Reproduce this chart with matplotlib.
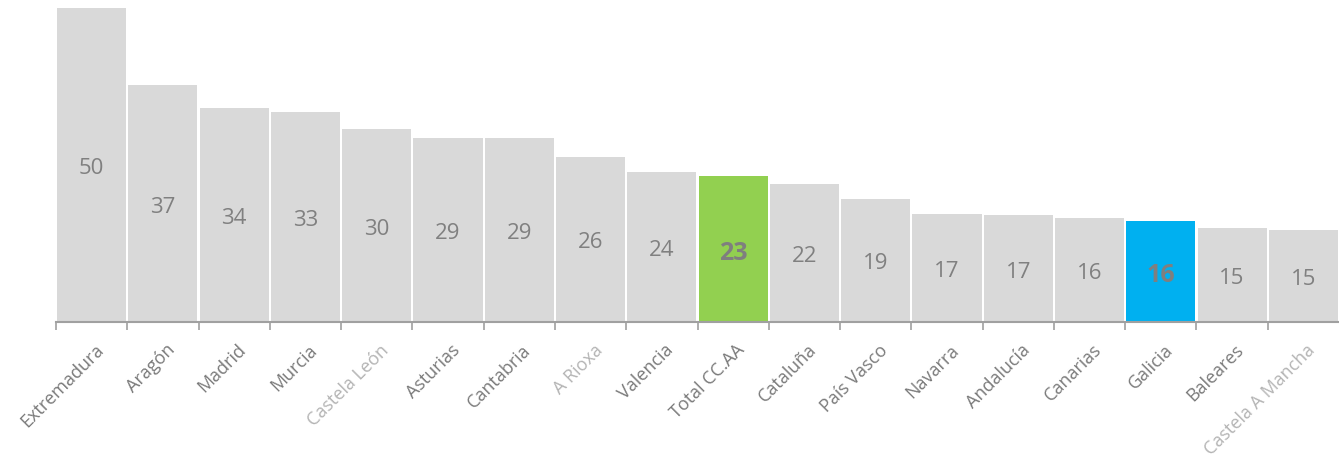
import numpy as np
import matplotlib.pyplot as plt

# Datos
rexions = ['Extremadura', 'Aragón', 'Madrid', 'Murcia', 'Castela León', 'Asturias',
           'Cantabria', 'A Rioxa', 'Valencia', 'Total CC.AA', 'Cataluña', 'País Vasco',
           'Navarra', 'Andalucía', 'Canarias', 'Galicia', 'Baleares', 'Castela A Mancha']
valores = [50.0, 37.7, 34.1, 33.4, 30.7, 29.3, 29.3, 26.3, 23.9, 23.2, 22.0, 19.6,
           17.2, 17.0, 16.6, 16.1, 15.0, 14.7]
etiquetas = ['50', '37', '34', '33', '30', '29', '29', '26', '24', '23', '22', '19',
             '17', '17', '16', '16', '15', '15']
destacadas = {'Total CC.AA': '#92d050', 'Galicia': '#00b0f0'}
tenues = ['Castela León', 'A Rioxa', 'Castela A Mancha']

plt.rcParams['font.family'] = ['Open Sans', 'DejaVu Sans']

fig = plt.figure(figsize=(13.39, 4.64), dpi=100)
ax = fig.add_axes([56 / 1339, (464 - 323) / 464, 1 - 56 / 1339, 323 / 464])

x = np.arange(len(rexions))
cores = [destacadas.get(r, '#d9d9d9') for r in rexions]
ax.bar(x, valores, width=0.97, color=cores, align='center')

for xi, v, lab, r in zip(x, valores, etiquetas, rexions):
    if r in destacadas:
        ax.text(xi, v / 2, lab, ha='center', va='center_baseline', fontsize=18,
                fontweight='bold', color='#7f7f7f')
    else:
        ax.text(xi, v / 2, lab, ha='center', va='center_baseline', fontsize=16,
                color='#808080')

ax.set_xlim(-0.5, len(rexions) - 0.5)
ax.set_ylim(0, 50 * 323 / 314)

for s in ['top', 'right', 'left']:
    ax.spines[s].set_visible(False)
ax.spines['bottom'].set_color('#a0a0a0')
ax.spines['bottom'].set_linewidth(1.5)
ax.set_yticks([])

# marcas entre barras
ax.set_xticks(np.arange(len(rexions)) - 0.5)
ax.set_xticklabels([])
ax.tick_params(axis='x', length=6, width=1.2, color='#a0a0a0', direction='out')

for xi, r in zip(x, rexions):
    col = '#b4b4b4' if r in tenues else '#7a7a7a'
    ax.annotate(r, xy=(xi, 0), xytext=(2, -13), textcoords='offset points',
                ha='right', va='top', rotation=45, rotation_mode='anchor',
                fontsize=13, color=col, annotation_clip=False)

fig.savefig('out.png', dpi=100)
